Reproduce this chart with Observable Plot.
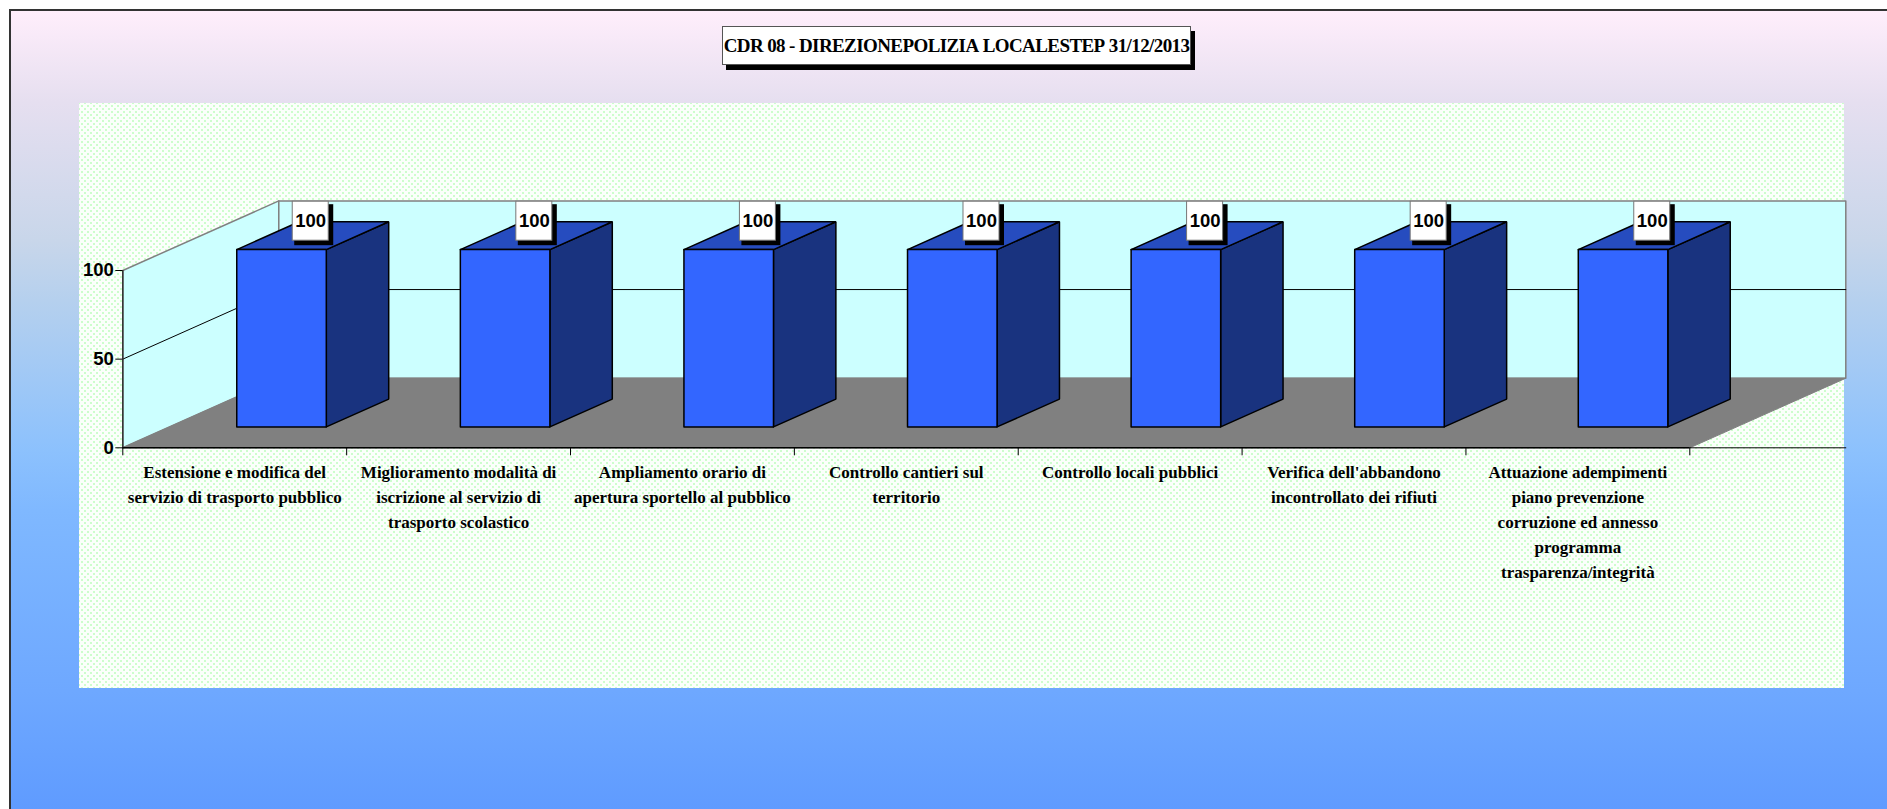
<!DOCTYPE html>
<html lang="it">
<head>
<meta charset="utf-8">
<title>CDR 08</title>
<script src="https://cdn.jsdelivr.net/npm/d3@7"></script>
<script src="https://cdn.jsdelivr.net/npm/@observablehq/plot@0.6"></script>
<style>
html,body{margin:0;padding:0;width:1887px;height:809px;overflow:hidden;background:#fff;}
#frame{position:absolute;left:9px;top:9px;width:1878px;height:800px;box-sizing:border-box;
  border-left:2px solid #333;border-top:2px solid #333;
  background:linear-gradient(to bottom,#ffeefb 0px,#e6dff0 90px,#c8d6ea 230px,#b5d0ee 290px,#8cc1fd 440px,#7fb8ff 500px,#6ea8ff 680px,#5f9bff 800px);}
#panel{position:absolute;left:79px;top:103px;width:1765px;height:585px;
  background-color:#fbfffb;
  background-image:radial-gradient(circle,#cdfdcd 1.1px,transparent 1.5px),radial-gradient(circle,#cdfdcd 1.1px,transparent 1.5px);
  background-size:6px 6px;background-position:0 0,3px 3px;}
#title{position:absolute;left:722px;top:26px;width:469px;height:39px;box-sizing:border-box;
  background:#fff;border:1px solid #555;box-shadow:4px 5px 0 #000;
  font:bold 19px "Liberation Serif",serif;letter-spacing:-0.6px;line-height:37px;text-align:center;color:#000;white-space:nowrap;}
#title span{word-spacing:-4px;}
#chart{position:absolute;left:0;top:0;}
</style>
</head>
<body>
<div id="frame"></div>
<div id="panel"></div>
<div id="title">CDR 08 - <span>DIREZIONE POLIZIA</span> <span>LOCALE STEP</span> 31/12/2013</div>
<div id="chart"></div>
<script>
const categories = [
  "Estensione e modifica del\nservizio di trasporto pubblico",
  "Miglioramento modalità di\niscrizione al servizio di\ntrasporto scolastico",
  "Ampliamento orario di\napertura sportello al pubblico",
  "Controllo cantieri sul\nterritorio",
  "Controllo locali pubblici",
  "Verifica dell'abbandono\nincontrollato dei rifiuti",
  "Attuazione adempimenti\npiano prevenzione\ncorruzione ed annesso\nprogramma\ntrasparenza/integrità"
];
const values = [100, 100, 100, 100, 100, 100, 100];
const yTicks = [0, 50, 100];

// Frame of the plot in pixels
const W = 1887, H = 809;
const L = 122.3, R = 1689.3, T = 270, B = 447.3;
const n = categories.length;
const yMax = 100;
const pxX = n / (R - L), pxY = yMax / (B - T);   // one pixel in data units

// Oblique projection: depth 0 (front) .. 1 (back wall)
const depthX = 156 * pxX, depthY = 69.6 * pxY;
const px = (c, d) => c + d * depthX;
const py = (v, d) => v + d * depthY;
const poly = (id, pts) => [...pts, pts[0]].map(([c, v, d]) => ({id, x: px(c, d), y: py(v, d)}));

const step = 0.9988, gap = 0.3, barW = 0.4, d0 = 0.3, d1 = 0.7;
const fronts = [], tops = [], sides = [];
values.forEach((v, i) => {
  const a = i * step + gap, b = a + barW;
  fronts.push(...poly(i, [[a,0,d0],[b,0,d0],[b,v,d0],[a,v,d0]]));
  tops.push(...poly(i, [[a,v,d0],[b,v,d0],[b,v,d1],[a,v,d1]]));
  sides.push(...poly(i, [[b,0,d0],[b,0,d1],[b,v,d1],[b,v,d0]]));
});
const wallLeft = poly("l", [[0,0,0],[0,yMax,0],[0,yMax,1],[0,0,1]]);
const wallBack = poly("b", [[0,0,1],[0,yMax,1],[n,yMax,1],[n,0,1]]);
const floor = poly("f", [[0,0,0],[0,0,1],[n,0,1],[n,0,0]]);
const grid = yTicks.filter(t => t > 0 && t < yMax).flatMap(t => [
  {x: px(0,0), y: py(t,0)}, {x: px(0,1), y: py(t,1)}, {x: px(n,1), y: py(t,1)}
]);
const rows = values.map((v, i) => ({i, v, cx: px(i * step + 0.5, 0.5), cy: py(v, 0.5)}));
const shapeColors = {front: "#3366ff", top: "#264cbf", side: "#19337f", wall: "#ccffff", floor: "#808080"};
const serif = '"Liberation Serif", serif', sans = '"Liberation Sans", sans-serif';

const plot = Plot.plot({
  width: W, height: H,
  marginLeft: L, marginRight: W - R, marginTop: T, marginBottom: H - B,
  style: {background: "transparent", overflow: "visible", maxWidth: "none"},
  x: {domain: [0, n], axis: null},
  y: {domain: [0, yMax], axis: null},
  marks: [
    Plot.line(wallLeft, {x: "x", y: "y", z: "id", fill: shapeColors.wall, stroke: "#808080", strokeWidth: 1.5}),
    Plot.line(wallBack, {x: "x", y: "y", z: "id", fill: shapeColors.wall, stroke: "#808080", strokeWidth: 1.5}),
    Plot.line(floor, {x: "x", y: "y", z: "id", fill: shapeColors.floor, stroke: "#808080", strokeWidth: 1}),
    Plot.line(grid, {x: "x", y: "y", stroke: "#000", strokeWidth: 1, curve: "linear"}),
    Plot.line([{x: px(n,0), y: 0}, {x: px(n,1), y: 0}], {x: "x", y: "y", stroke: "#000", strokeWidth: 1}),
    Plot.line(sides, {x: "x", y: "y", z: "id", fill: shapeColors.side, stroke: "#000", strokeWidth: 1.5, strokeLinejoin: "miter"}),
    Plot.line(tops, {x: "x", y: "y", z: "id", fill: shapeColors.top, stroke: "#000", strokeWidth: 1.5, strokeLinejoin: "miter"}),
    Plot.line(fronts, {x: "x", y: "y", z: "id", fill: shapeColors.front, stroke: "#000", strokeWidth: 1.5, strokeLinejoin: "miter"}),
    Plot.ruleY([0], {stroke: "#000", strokeWidth: 1.5}),
    Plot.ruleX([0], {y1: 0, y2: yMax, stroke: "#333", strokeWidth: 1.5}),
    Plot.ruleX(d3.range(n + 1), {y1: 0, y2: -8 * pxY, stroke: "#000", strokeWidth: 1}),
    Plot.axisY({ticks: yTicks, tickSize: 7, tickPadding: 2, fontSize: 18.5, fontWeight: "bold", fontFamily: sans, label: null, stroke: "#000", fill: "#000"}),
    // category labels
    Plot.text(categories, {
      x: (d, i) => i + 0.5, y: 0, text: d => d, dy: 12, lineAnchor: "top", lineHeight: 1.48,
      fontSize: 17, fontWeight: "bold", fontFamily: serif, fill: "#000", textAnchor: "middle"
    }),
    // data label boxes
    Plot.rect(rows, {
      x1: d => d.cx - 18 * pxX, x2: d => d.cx + 21 * pxX,
      y1: d => d.cy + 31 * pxY, y2: d => d.cy - 10 * pxY, fill: "#000"
    }),
    Plot.rect(rows, {
      x1: d => d.cx - 20 * pxX, x2: d => d.cx + 16 * pxX,
      y1: d => d.cy + 34 * pxY, y2: d => d.cy - 5 * pxY, fill: "#fff", stroke: "#777", strokeWidth: 1
    }),
    Plot.text(rows, {
      x: "cx", y: "cy", text: d => String(d.v), dx: -2, dy: -14.6,
      fontSize: 18.5, fontWeight: "bold", fontFamily: sans, fill: "#000"
    })
  ]
});
document.getElementById("chart").appendChild(plot);
</script>
</body>
</html>
